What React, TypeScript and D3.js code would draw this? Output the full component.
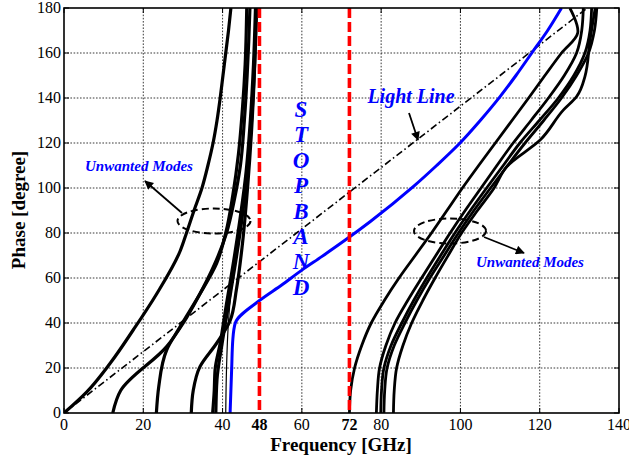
import React, { useEffect, useRef } from 'react';
import * as d3 from 'd3';

type Pt = [number, number];

// frequency [GHz], phase [degree]
const leftModeA: Pt[] = [[0, 0], [5.7, 9.3], [11.6, 22], [17.5, 37], [23.4, 53], [29.3, 72], [30.9, 80], [32.8, 90], [34.8, 100], [36.3, 110], [37.6, 120], [38.6, 130], [39.4, 140], [40.1, 150], [40.8, 160], [41.5, 170], [42.1, 180]];
const leftModeB: Pt[] = [[12.3, 0], [14.3, 10], [25.9, 29.5], [30.1, 40], [34, 52], [37.7, 65], [41, 80], [43, 95], [44.5, 110], [45.5, 130], [46.2, 150], [46.6, 165], [46.9, 180]];
const leftModeC: Pt[] = [[23.3, 0], [23.9, 11.7], [25.9, 28], [29.3, 38.4], [34.3, 53], [38.5, 66.5], [40.8, 80], [42.6, 97], [44, 115], [45, 135], [45.7, 155], [46.1, 180]];
const leftModeD: Pt[] = [[32.1, 0], [32.6, 10], [34.3, 20.6], [38.5, 31], [41.9, 41], [43.5, 55], [45, 75], [46.3, 100], [47.3, 125], [48, 150], [48.5, 180]];
const leftModeE: Pt[] = [[37.5, 0], [37.9, 10], [38.1, 19], [39.4, 31], [41, 48.7], [42.7, 66.5], [44.3, 85], [45.8, 105], [47, 130], [47.8, 155], [48.3, 180]];
const leftModeE2: Pt[] = [[38.3, 0], [38.6, 15], [39.8, 30], [41.5, 48], [43.2, 66], [44.8, 85], [46.3, 108], [47.5, 135], [48.2, 160], [48.6, 180]];
const leftModeThin: Pt[] = [[40.8, 0], [41, 20], [41.4, 38], [42.2, 55], [43.5, 72], [45, 92], [46.5, 115], [47.6, 140], [48.3, 165], [48.6, 180]];

// R1 folds back near the top
const rightModeR1: Pt[] = [[72, 0], [72.3, 10], [73.3, 20], [75.1, 30], [77.5, 40], [80.8, 50], [84.5, 60], [88.6, 70], [92.7, 80], [96.6, 90], [100.5, 100], [104.6, 110], [108.8, 120], [113, 130], [117.2, 140], [121.3, 150], [125.5, 160], [129.6, 169], [127.6, 180]];
const rightModeR2: Pt[] = [[78.8, 0], [79.05, 10], [79.6, 20], [81.2, 30], [83.5, 40], [86.7, 50], [90.2, 60], [93.8, 70], [97.4, 80], [101.2, 90], [105.2, 100], [109.2, 110], [113.3, 120], [117.8, 130], [122.2, 140], [126.2, 150], [129.3, 160], [130.6, 170], [131, 180]];
const rightModeR3: Pt[] = [[79.9, 0], [80.1, 10], [80.7, 20], [82.5, 30], [85.2, 40], [88.2, 50], [91.5, 60], [95, 70], [98.6, 80], [102.5, 90], [106.6, 100], [110.8, 110], [115, 120], [119.9, 130], [124.7, 140], [128.6, 150], [131.4, 160], [132.7, 170], [133.1, 180]];
const rightModeR4: Pt[] = [[80.7, 0], [80.9, 10], [81.5, 20], [83.3, 30], [86, 40], [89, 50], [92.3, 60], [95.9, 70], [99.5, 80], [103.4, 90], [107.6, 100], [111.9, 110], [116.3, 120], [121, 130], [125.5, 140], [129.3, 150], [132.3, 160], [133.8, 170], [134.4, 180]];
const rightModeR5: Pt[] = [[83.1, 0], [83.3, 10], [83.9, 20], [85.5, 30], [87.7, 40], [90.5, 50], [93.6, 60], [96.9, 70], [100.3, 80], [104.3, 90], [108.5, 100], [111.7, 109.5], [120.1, 121.3], [126, 134.7], [129.3, 140.6], [131.4, 149.5], [132.7, 165.8], [134, 180]];

const mainMode: Pt[] = [[41.9, 0], [42.3, 20], [42.6, 33], [43.2, 40], [49.3, 50], [55, 57], [60, 63.5], [65, 69.5], [71.3, 77.3], [77.2, 85], [88.1, 100.6], [94, 110], [99.9, 120], [105, 130], [110, 140.6], [114, 150], [118, 160], [122, 170], [125.5, 180]];
const lightLine: Pt[] = [[0, 0], [132, 180]];

// stopband edges: where the red lines sit and their labels
const stopEdges = [49.3, 72];
const stopLabels = ['48', '72'];

const xTicks = [0, 20, 40, 60, 80, 100, 120, 140];
const yTicks = [0, 20, 40, 60, 80, 100, 120, 140, 160, 180];
const stopLetters = ['S', 'T', 'O', 'P', 'B', 'A', 'N', 'D'];

export default function App() {
  const ref = useRef<SVGSVGElement>(null);

  useEffect(() => {
    const width = 629;
    const height = 460;
    const padding = { left: 64, right: 10, top: 8, bottom: 47 };
    const svg = d3.select(ref.current);
    svg.selectAll('*').remove();

    const x = d3.scaleLinear().domain([0, 140]).range([padding.left, width - padding.right]);
    const y = d3.scaleLinear().domain([0, 180]).range([height - padding.bottom, padding.top]);
    const serif = "'Liberation Serif', 'Times New Roman', serif";

    svg.append('rect').attr('width', width).attr('height', height).attr('fill', '#fff');

    const defs = svg.append('defs');
    defs.append('clipPath').attr('id', 'plotclip').append('rect')
      .attr('x', x(0)).attr('y', y(180)).attr('width', x(140) - x(0)).attr('height', y(0) - y(180));
    defs.append('marker').attr('id', 'arr').attr('viewBox', '0 0 10 10')
      .attr('refX', 9).attr('refY', 5).attr('markerWidth', 10).attr('markerHeight', 9)
      .attr('markerUnits', 'userSpaceOnUse').attr('orient', 'auto')
      .append('path').attr('d', 'M0,0 L10,5 L0,10 z').attr('fill', '#000');

    // grid
    const grid = svg.append('g').attr('stroke', '#222').attr('stroke-width', 0.9).attr('stroke-dasharray', '1.6,1.6');
    grid.selectAll('.gx').data(xTicks.slice(1, -1)).enter().append('line')
      .attr('x1', d => x(d)).attr('x2', d => x(d)).attr('y1', y(0)).attr('y2', y(180));
    grid.selectAll('.gy').data(yTicks.slice(1, -1)).enter().append('line')
      .attr('x1', x(0)).attr('x2', x(140)).attr('y1', d => y(d)).attr('y2', d => y(d));

    const plot = svg.append('g').attr('clip-path', 'url(#plotclip)');
    const line = d3.line<Pt>().x(d => x(d[0])).y(d => y(d[1])).curve(d3.curveMonotoneY);
    const folded = d3.line<Pt>().x(d => x(d[0])).y(d => y(d[1])).curve(d3.curveCatmullRom.alpha(0.5));
    const straight = d3.line<Pt>().x(d => x(d[0])).y(d => y(d[1]));

    // light line
    plot.append('path').attr('d', straight(lightLine)).attr('fill', 'none')
      .attr('stroke', '#000').attr('stroke-width', 1.6).attr('stroke-dasharray', '7,3,1.5,3');

    const leftModes = [leftModeA, leftModeB, leftModeC, leftModeD, leftModeE, leftModeE2];
    plot.selectAll('.lm').data(leftModes).enter().append('path')
      .attr('d', d => line(d)).attr('fill', 'none').attr('stroke', '#000').attr('stroke-width', 3.2);
    plot.append('path').attr('d', line(leftModeThin)).attr('fill', 'none').attr('stroke', '#000').attr('stroke-width', 1.2);

    const rightModes = [rightModeR2, rightModeR3, rightModeR4, rightModeR5];
    plot.selectAll('.rm').data(rightModes).enter().append('path')
      .attr('d', d => line(d)).attr('fill', 'none').attr('stroke', '#000').attr('stroke-width', 2.8);
    plot.append('path').attr('d', folded(rightModeR1)).attr('fill', 'none').attr('stroke', '#000').attr('stroke-width', 2.8);

    plot.append('path').attr('d', line(mainMode)).attr('fill', 'none').attr('stroke', '#0000ff').attr('stroke-width', 3);

    // stopband edges
    svg.selectAll('.edge').data(stopEdges).enter().append('line')
      .attr('x1', d => x(d)).attr('x2', d => x(d)).attr('y1', y(180)).attr('y2', y(0))
      .attr('stroke', '#ff0000').attr('stroke-width', 3.6).attr('stroke-dasharray', '10,4');

    // frame and ticks
    svg.append('rect').attr('x', x(0)).attr('y', y(180)).attr('width', x(140) - x(0)).attr('height', y(0) - y(180))
      .attr('fill', 'none').attr('stroke', '#000').attr('stroke-width', 1.6);
    const ticks = svg.append('g').attr('stroke', '#000').attr('stroke-width', 1);
    xTicks.forEach(t => {
      ticks.append('line').attr('x1', x(t)).attr('x2', x(t)).attr('y1', y(0)).attr('y2', y(0) - 5);
      ticks.append('line').attr('x1', x(t)).attr('x2', x(t)).attr('y1', y(180)).attr('y2', y(180) + 5);
    });
    yTicks.forEach(t => {
      ticks.append('line').attr('x1', x(0)).attr('x2', x(0) + 5).attr('y1', y(t)).attr('y2', y(t));
      ticks.append('line').attr('x1', x(140)).attr('x2', x(140) - 5).attr('y1', y(t)).attr('y2', y(t));
    });

    // tick labels
    svg.selectAll('.xl').data(xTicks).enter().append('text')
      .attr('x', d => x(d)).attr('y', y(0) + 17).attr('text-anchor', 'middle')
      .attr('font-family', serif).attr('font-size', 16).text(d => d);
    svg.selectAll('.sl').data(stopEdges).enter().append('text')
      .attr('x', d => x(d)).attr('y', y(0) + 17).attr('text-anchor', 'middle')
      .attr('font-family', serif).attr('font-size', 16).attr('font-weight', 'bold').text((d, i) => stopLabels[i]);
    svg.selectAll('.yl').data(yTicks).enter().append('text')
      .attr('x', x(0) - 3).attr('y', d => y(d) + 5).attr('text-anchor', 'end')
      .attr('font-family', serif).attr('font-size', 16).text(d => d);

    // axis titles
    svg.append('text').attr('x', 341).attr('y', 451).attr('text-anchor', 'middle')
      .attr('font-family', serif).attr('font-size', 19).attr('font-weight', 'bold').text('Frequency [GHz]');
    svg.append('text').attr('transform', 'translate(25,210) rotate(-90)').attr('text-anchor', 'middle')
      .attr('font-family', serif).attr('font-size', 19).attr('font-weight', 'bold').text('Phase [degree]');

    // annotations
    const note = svg.append('g').attr('fill', '#0000ff').attr('font-family', serif)
      .attr('font-weight', 'bold').attr('font-style', 'italic');
    note.selectAll('.sb').data(stopLetters).enter().append('text')
      .attr('x', 301).attr('y', (d, i) => 117 + i * 25.4).attr('text-anchor', 'middle')
      .attr('font-size', 23).text(d => d);
    note.append('text').attr('x', 411).attr('y', 103).attr('text-anchor', 'middle').attr('font-size', 20).text('Light Line');
    note.append('text').attr('x', 139).attr('y', 171).attr('text-anchor', 'middle').attr('font-size', 15).text('Unwanted Modes');
    note.append('text').attr('x', 530).attr('y', 267).attr('text-anchor', 'middle').attr('font-size', 15).text('Unwanted Modes');

    const ann = svg.append('g').attr('fill', 'none').attr('stroke', '#000');
    ann.append('ellipse').attr('cx', 214).attr('cy', 221).attr('rx', 36.5).attr('ry', 12.5)
      .attr('stroke-width', 2).attr('stroke-dasharray', '7,4');
    ann.append('ellipse').attr('cx', 450).attr('cy', 231).attr('rx', 36).attr('ry', 12.5)
      .attr('stroke-width', 2).attr('stroke-dasharray', '7,4');
    ann.append('line').attr('x1', 182).attr('y1', 213).attr('x2', 145).attr('y2', 181)
      .attr('stroke-width', 1.8).attr('marker-end', 'url(#arr)');
    ann.append('line').attr('x1', 484).attr('y1', 237).attr('x2', 524).attr('y2', 253)
      .attr('stroke-width', 1.8).attr('marker-end', 'url(#arr)');
    ann.append('line').attr('x1', 409).attr('y1', 113).attr('x2', 418).attr('y2', 140)
      .attr('stroke-width', 1.8).attr('marker-end', 'url(#arr)');
  }, []);

  return (
    <svg ref={ref} width={629} height={460} style={{ position: 'absolute', left: 0, top: 0 }} />
  );
}
